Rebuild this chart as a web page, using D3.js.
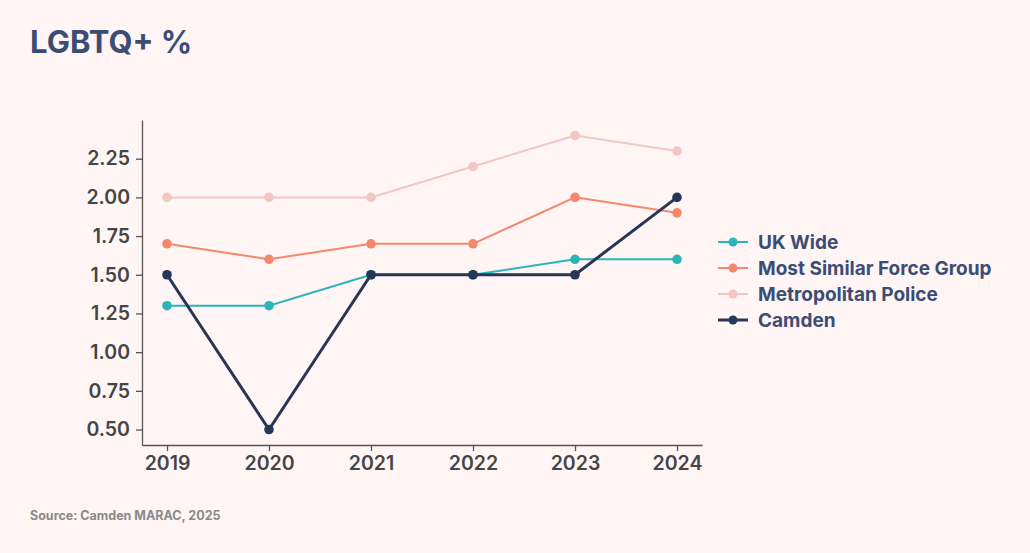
<!DOCTYPE html>
<html><head><meta charset="utf-8">
<script src="https://cdn.jsdelivr.net/npm/d3@7"></script>
<style>
html,body{margin:0;padding:0;background:#fff5f5;}
svg{display:block;font-family:Inter,"Noto Sans",sans-serif;}
</style></head><body>
<svg id="c" width="1030" height="553"></svg>
<script>
const years = ["2019","2020","2021","2022","2023","2024"];
const ukWide = [1.3,1.3,1.5,1.5,1.6,1.6];
const mostSimilar = [1.7,1.6,1.7,1.7,2.0,1.9];
const metPolice = [2.0,2.0,2.0,2.2,2.4,2.3];
const camden = [1.5,0.5,1.5,1.5,1.5,2.0];
const yTicks = [0.5,0.75,1.0,1.25,1.5,1.75,2.0,2.25];
const seriesNames = ["UK Wide","Most Similar Force Group","Metropolitan Police","Camden"];

const series = [
  {name:seriesNames[0], values:ukWide, color:"#2bb5b9", w:2},
  {name:seriesNames[1], values:mostSimilar, color:"#f5876c", w:2},
  {name:seriesNames[2], values:metPolice, color:"#f2c6c3", w:2},
  {name:seriesNames[3], values:camden, color:"#253757", w:3}
];
const drawOrder = [2,1,0,3];

const svg = d3.select("#c");
svg.append("rect").attr("width",1030).attr("height",553).attr("fill","#fff5f5");

svg.append("text").attr("x",30).attr("y",53).text("LGBTQ+ %")
  .attr("font-size",31).attr("font-weight",700).attr("fill","#3b4d74");

const x = d3.scalePoint().domain(years).range([142,702]).padding(0.245);
const y = d3.scaleLinear().domain([0.4,2.5]).range([445,120]);

const gx = svg.append("g").attr("transform","translate(0,445)")
  .call(d3.axisBottom(x).tickSize(6).tickPadding(5).tickSizeOuter(0));
const gy = svg.append("g").attr("transform","translate(142,0)")
  .call(d3.axisLeft(y).tickValues(yTicks).tickFormat(d3.format(".2f")).tickSize(6).tickPadding(6).tickSizeOuter(0));
[gx,gy].forEach(g=>{
  g.selectAll("path,line").attr("stroke","#555").attr("stroke-width",1.3);
  g.selectAll("text").attr("font-size",19.5).attr("font-weight",600).attr("fill","#454545")
   .attr("font-family","Inter,'Noto Sans',sans-serif");
});

const line = d3.line().x((d,i)=>x(years[i])).y(d=>y(d));
drawOrder.forEach(k=>{
  const s = series[k];
  const g = svg.append("g");
  g.append("path").datum(s.values).attr("d",line).attr("fill","none")
    .attr("stroke",s.color).attr("stroke-width",s.w);
  g.selectAll("circle").data(s.values).join("circle")
    .attr("cx",(d,i)=>x(years[i])).attr("cy",d=>y(d)).attr("r",4.8).attr("fill",s.color);
});

const lg = svg.append("g");
series.forEach((s,i)=>{
  const cy = 242 + i*26;
  lg.append("line").attr("x1",718).attr("x2",748).attr("y1",cy).attr("y2",cy)
    .attr("stroke",s.color).attr("stroke-width",s.w);
  lg.append("circle").attr("cx",733).attr("cy",cy).attr("r",4.5).attr("fill",s.color);
  lg.append("text").attr("x",758).attr("y",cy).attr("dy","0.36em").text(s.name)
    .attr("font-size",19).attr("font-weight",700).attr("fill","#3b4d74");
});

svg.append("text").attr("x",30).attr("y",520).text("Source: Camden MARAC, 2025")
  .attr("font-size",12.5).attr("font-weight",700).attr("fill","#8a8a8a");
</script>
</body></html>
